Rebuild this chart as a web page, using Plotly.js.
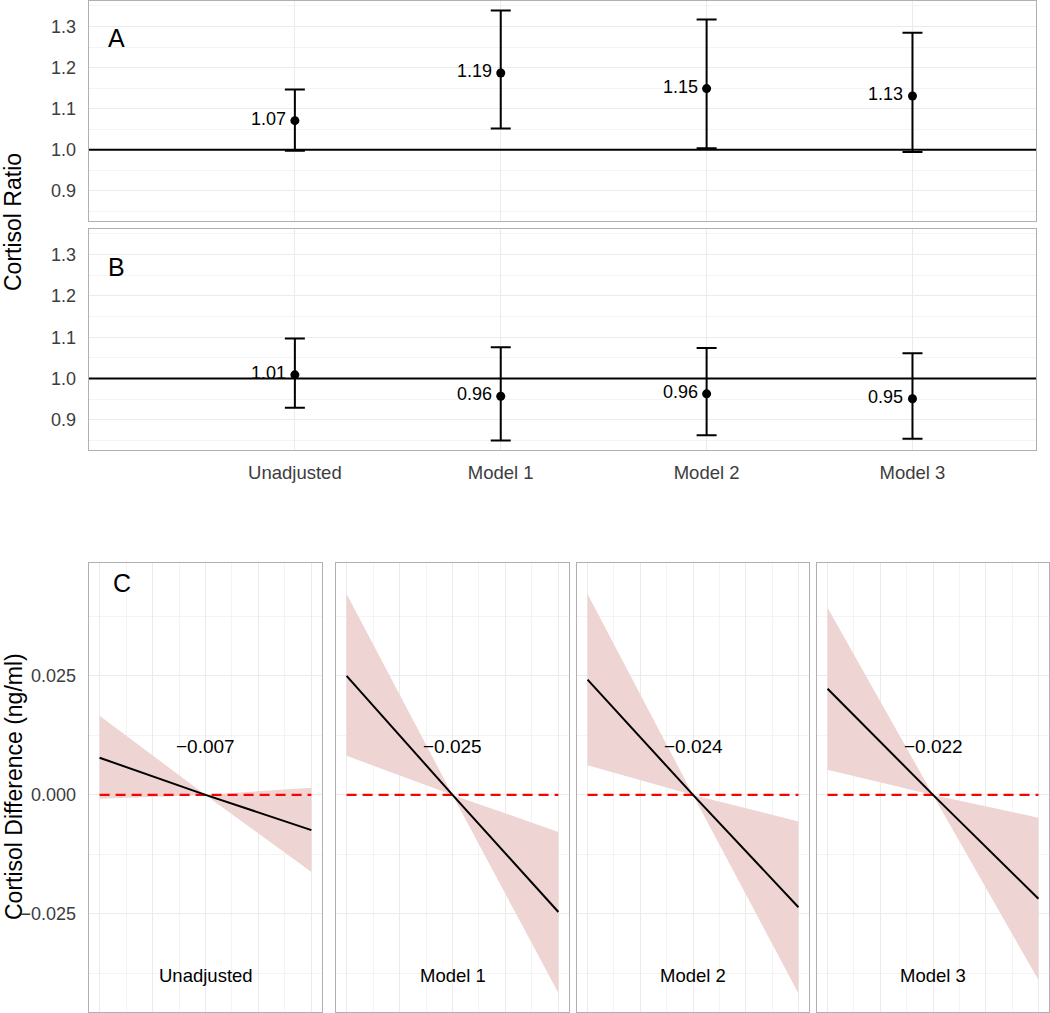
<!DOCTYPE html>
<html>
<head>
<meta charset="utf-8">
<script src="https://cdn.plot.ly/plotly-3.0.1.min.js"></script>
<style>html,body{margin:0;padding:0;background:#fff;}#chart{width:1050px;height:1013px;}</style>
</head>
<body>
<div id="chart"></div>
<script>
// ---------- Data ----------
const categories = ['Unadjusted', 'Model 1', 'Model 2', 'Model 3'];
const catIndex = [1, 2, 3, 4];

// Panel A
const ratioA = [1.071, 1.187, 1.149, 1.131];
const lowA   = [0.998, 1.052, 1.004, 0.995];
const highA  = [1.147, 1.339, 1.317, 1.285];
const labelA = ['1.07', '1.19', '1.15', '1.13'];

// Panel B
const ratioB = [1.009, 0.957, 0.963, 0.951];
const lowB   = [0.929, 0.850, 0.863, 0.854];
const highB  = [1.097, 1.076, 1.074, 1.061];
const labelB = ['1.01', '0.96', '0.96', '0.95'];

const refRatio = 1.0;

// Panel C (one array per model; x = standardized exposure)
const xC = [-2, 0, 2];
const fitUnadj = [0.0078, 0, -0.0074];
const hiUnadj  = [0.0166, 0, 0.0015];
const loUnadj  = [-0.0008, 0, -0.0162];
const fitM1 = [0.0250, 0, -0.0246];
const hiM1  = [0.0422, 0, -0.0078];
const loM1  = [0.0082, 0, -0.0416];
const fitM2 = [0.0242, 0, -0.0236];
const hiM2  = [0.0422, 0, -0.0056];
const loM2  = [0.0062, 0, -0.0417];
const fitM3 = [0.0223, 0, -0.0218];
const hiM3  = [0.0393, 0, -0.0048];
const loM3  = [0.0053, 0, -0.0389];
const slopeLabels = ['\u22120.007', '\u22120.025', '\u22120.024', '\u22120.022'];
const refXC = [-2, 2];
const refYC = [0, 0];
const slopeLabelY = 0.0101;
const panelNameY = -0.038;

// ---------- Styling ----------
const FONT = 'Liberation Sans, Arial, Helvetica, sans-serif';
const TXT = '#3d3d3d';
const GRID = '#ebebeb';
const MINOR = '#f4f4f4';
const BORDER = '#b0b0b0';
const RIBBON = '#EED4D2';
const W = 1050, H = 1013;
const px = v => v / W;
const py = v => 1 - v / H;

const traces = [];
const annotations = [];

function ratioPanel(vals, lows, highs, labels, xa, ya) {
  traces.push({
    type: 'scatter', mode: 'markers', x: catIndex, y: vals,
    xaxis: xa, yaxis: ya,
    marker: {color: '#000', size: 9},
    error_y: {type: 'data', symmetric: false,
      array: highs.map((h, i) => h - vals[i]),
      arrayminus: lows.map((l, i) => vals[i] - l),
      color: '#000', thickness: 2, width: 10},
    hoverinfo: 'skip', showlegend: false
  });
  labels.forEach((t, i) => annotations.push({
    x: catIndex[i], y: vals[i], xref: xa, yref: ya, text: t, showarrow: false,
    xanchor: 'right', yanchor: 'middle', xshift: -7, yshift: 2,
    font: {family: FONT, size: 18, color: '#000'}
  }));
}
ratioPanel(ratioA, lowA, highA, labelA, 'x', 'y');
ratioPanel(ratioB, lowB, highB, labelB, 'x2', 'y2');

const cPanels = [
  [fitUnadj, hiUnadj, loUnadj],
  [fitM1, hiM1, loM1],
  [fitM2, hiM2, loM2],
  [fitM3, hiM3, loM3]
];
cPanels.forEach((p, k) => {
  const xa = 'x' + (k + 3), ya = 'y' + (k + 3);
  traces.push({type: 'scatter', mode: 'lines', x: xC, y: p[2], xaxis: xa, yaxis: ya,
    line: {width: 0, color: RIBBON}, hoverinfo: 'skip', showlegend: false});
  traces.push({type: 'scatter', mode: 'lines', x: xC, y: p[1], xaxis: xa, yaxis: ya,
    line: {width: 0, color: RIBBON}, fill: 'tonexty', fillcolor: RIBBON,
    hoverinfo: 'skip', showlegend: false});
  traces.push({type: 'scatter', mode: 'lines', x: refXC, y: refYC, xaxis: xa, yaxis: ya,
    line: {color: '#ff0000', width: 2.2, dash: '10px,6px'}, hoverinfo: 'skip', showlegend: false});
  traces.push({type: 'scatter', mode: 'lines', x: xC, y: p[0], xaxis: xa, yaxis: ya,
    line: {color: '#000', width: 2}, hoverinfo: 'skip', showlegend: false});
  annotations.push({x: 0, y: slopeLabelY, xref: xa, yref: ya, text: slopeLabels[k],
    showarrow: false, xanchor: 'center', yanchor: 'middle',
    font: {family: FONT, size: 19, color: '#000'}});
  annotations.push({x: 0, y: panelNameY, xref: xa, yref: ya, text: categories[k],
    showarrow: false, xanchor: 'center', yanchor: 'middle',
    font: {family: FONT, size: 18.5, color: '#000'}});
});

// panel letters and y titles
annotations.push({xref: 'paper', yref: 'paper', x: px(106), y: py(38), text: 'A', showarrow: false,
  xanchor: 'left', yanchor: 'middle', font: {family: FONT, size: 25, color: '#000'}});
annotations.push({xref: 'paper', yref: 'paper', x: px(106), y: py(267), text: 'B', showarrow: false,
  xanchor: 'left', yanchor: 'middle', font: {family: FONT, size: 25, color: '#000'}});
annotations.push({xref: 'paper', yref: 'paper', x: px(111), y: py(583), text: 'C', showarrow: false,
  xanchor: 'left', yanchor: 'middle', font: {family: FONT, size: 25, color: '#000'}});
annotations.push({xref: 'paper', yref: 'paper', x: px(13), y: py(222), text: 'Cortisol Ratio', showarrow: false,
  textangle: -90, xanchor: 'center', yanchor: 'middle', font: {family: FONT, size: 23, color: '#000'}});
annotations.push({xref: 'paper', yref: 'paper', x: px(14), y: py(787), text: 'Cortisol Difference (ng/ml)', showarrow: false,
  textangle: -90, xanchor: 'center', yanchor: 'middle', font: {family: FONT, size: 23, color: '#000'}});

const boxAxis = {showline: true, mirror: true, linecolor: BORDER, linewidth: 1.3, zeroline: false,
  showgrid: true, gridcolor: GRID, gridwidth: 1, fixedrange: true};

const ratioY = (dom) => Object.assign({}, boxAxis, {
  domain: dom, range: [0.827, 1.362], tickmode: 'linear', tick0: 0.9, dtick: 0.1, tickformat: '.1f',
  ticks: 'outside', ticklen: 8, tickcolor: 'rgba(0,0,0,0)',
  tickfont: {family: FONT, size: 18, color: TXT},
  minor: {tickmode: 'linear', tick0: 0.85, dtick: 0.1, showgrid: true, gridcolor: MINOR, gridwidth: 1}
});

const layout = {
  width: W, height: H, margin: {l: 0, r: 0, t: 0, b: 0},
  paper_bgcolor: '#fff', plot_bgcolor: '#fff', showlegend: false,
  font: {family: FONT},
  xaxis: Object.assign({}, boxAxis, {domain: [px(89), px(1036)], anchor: 'y', range: [0, 4.6],
    tickvals: catIndex, ticktext: categories, showticklabels: false}),
  yaxis: Object.assign(ratioY([py(221), py(1)]), {anchor: 'x'}),
  xaxis2: Object.assign({}, boxAxis, {domain: [px(89), px(1036)], anchor: 'y2', range: [0, 4.6],
    tickvals: catIndex, ticktext: categories, ticks: 'outside', ticklen: 5, tickcolor: 'rgba(0,0,0,0)',
    tickfont: {family: FONT, size: 18.5, color: TXT}}),
  yaxis2: Object.assign(ratioY([py(450), py(229)]), {anchor: 'x2'}),
  shapes: [
    {type: 'line', xref: 'x domain', yref: 'y', x0: 0, x1: 1, y0: refRatio, y1: refRatio, line: {color: '#000', width: 2}},
    {type: 'line', xref: 'x2 domain', yref: 'y2', x0: 0, x1: 1, y0: refRatio, y1: refRatio, line: {color: '#000', width: 2}}
  ],
  annotations: annotations
};

const cDomains = [[89, 322], [336, 569], [577, 809], [817, 1049]];
cDomains.forEach((d, k) => {
  const n = k + 3;
  layout['xaxis' + n] = Object.assign({}, boxAxis, {domain: [px(d[0]), px(d[1])], anchor: 'y' + n,
    range: [-2.2, 2.2], tickmode: 'linear', tick0: 0, dtick: 1, showticklabels: false,
    minor: {tickmode: 'linear', tick0: 0.5, dtick: 1, showgrid: true, gridcolor: MINOR, gridwidth: 1}});
  layout['yaxis' + n] = Object.assign({}, boxAxis, {domain: [py(1012), py(563)], anchor: 'x' + n,
    range: [-0.0456, 0.0487], tickmode: 'linear', tick0: 0, dtick: 0.025, tickformat: '.3f',
    showticklabels: k === 0, ticks: k === 0 ? 'outside' : '', ticklen: 8, tickcolor: 'rgba(0,0,0,0)',
    tickfont: {family: FONT, size: 18, color: TXT},
    minor: {tickmode: 'linear', tick0: 0.0125, dtick: 0.025, showgrid: true, gridcolor: MINOR, gridwidth: 1}});
});

Plotly.newPlot('chart', traces, layout, {staticPlot: true, displayModeBar: false});
</script>
</body>
</html>
